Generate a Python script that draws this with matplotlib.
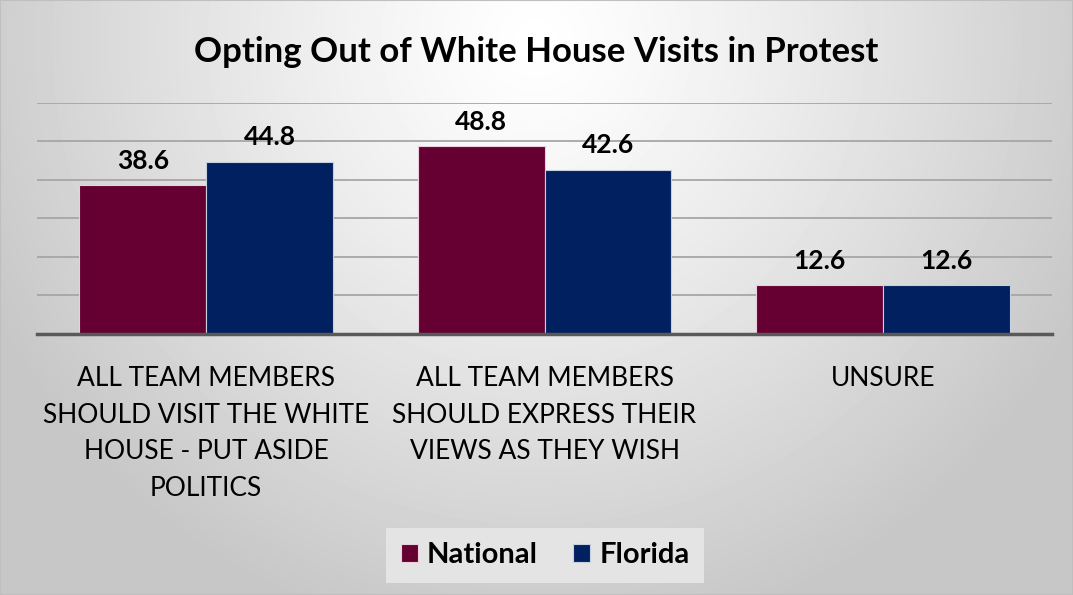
import numpy as np
import matplotlib.pyplot as plt
from matplotlib.patches import Rectangle

categories = [
    "ALL TEAM MEMBERS\nSHOULD VISIT THE WHITE\nHOUSE - PUT ASIDE\nPOLITICS",
    "ALL TEAM MEMBERS\nSHOULD EXPRESS THEIR\nVIEWS AS THEY WISH",
    "UNSURE",
]
national = [38.6, 48.8, 12.6]
florida = [44.8, 42.6, 12.6]
series_names = ["National", "Florida"]
colors = ["#660033", "#002060"]

plt.rcParams['font.family'] = ['Lato', 'DejaVu Sans']

fig = plt.figure(figsize=(10.73, 5.95), dpi=100)

# radial grey background, lightest near the top middle
bg = fig.add_axes([0, 0, 1, 1], zorder=-10)
yy, xx = np.mgrid[0:595, 0:1073]
d = np.sqrt(((xx - 536) / 560.0) ** 2 + ((yy - 40) / 560.0) ** 2)
shade = np.clip(1.0 - 0.2 * d ** 1.2, 0.78, 1.0)
bg.imshow(shade, cmap='gray', vmin=0, vmax=1, aspect='auto',
          extent=[0, 1, 0, 1], origin='upper')
bg.set_axis_off()
bg.add_patch(Rectangle((0, 0), 1, 1, transform=bg.transAxes, fill=False,
                       edgecolor='#bfbfbf', lw=1.5))

ax = fig.add_axes([0.0345, 0.4387, 0.946, 0.3882])
ax.set_facecolor('none')
x = np.arange(len(categories))
w = 0.375
b1 = ax.bar(x - w / 2, national, w, color=colors[0], edgecolor='#e8d0dc',
            lw=0.8, label=series_names[0], zorder=3)
b2 = ax.bar(x + w / 2, florida, w, color=colors[1], edgecolor='#c8d0e0',
            lw=0.8, label=series_names[1], zorder=3)
for bars in (b1, b2):
    ax.bar_label(bars, fmt='%.1f', padding=9, fontsize=19,
                 fontweight='bold', color='black')

ax.set_xlim(-0.5, 2.5)
ax.set_ylim(0, 60)
ax.set_yticks(np.arange(10, 61, 10))
ax.yaxis.grid(True, color='#a6a6a6', lw=1.3, zorder=0)
ax.tick_params(axis='y', length=0, labelleft=False)
ax.tick_params(axis='x', length=0, pad=23)
ax.set_xticks(x)
ax.set_xticklabels(categories, fontsize=19, linespacing=1.58,
                   color='black', va='top')
for s in ('top', 'right', 'left'):
    ax.spines[s].set_visible(False)
ax.spines['bottom'].set_color('#595959')
ax.spines['bottom'].set_linewidth(2.5)
ax.spines['bottom'].set_zorder(4)

fig.text(0.5, 0.913, "Opting Out of White House Visits in Protest",
         ha='center', va='center', fontsize=25, fontweight='bold')

leg = fig.legend(handles=[b1, b2], loc='center', bbox_to_anchor=(0.508, 0.067),
                 ncol=2, frameon=True, fancybox=False, handlelength=0.6,
                 handleheight=0.6, handletextpad=0.3, columnspacing=1.2,
                 borderpad=0.5, prop={'size': 21, 'weight': 'bold'})
leg.get_frame().set_facecolor('#e4e4e4')
leg.get_frame().set_edgecolor('none')
leg.get_frame().set_alpha(1)

fig.savefig('out.png', dpi=100)
